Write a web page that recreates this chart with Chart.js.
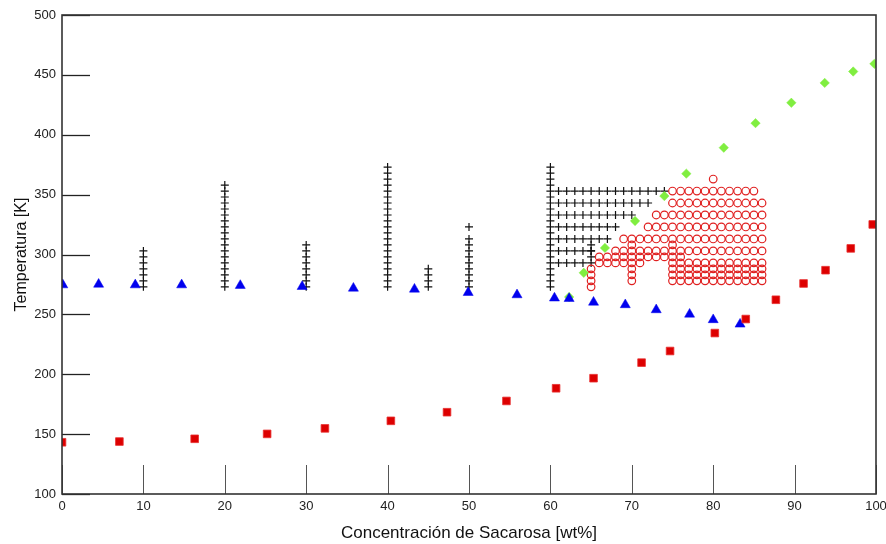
<!DOCTYPE html>
<html><head><meta charset="utf-8">
<script src="https://cdn.jsdelivr.net/npm/chart.js@4.4.0/dist/chart.umd.min.js"></script>
<style>html,body{margin:0;padding:0;background:#fff;overflow:hidden}#wrap{width:886px;height:544px}</style>
</head><body><div id="wrap"><canvas id="c" width="886" height="544"></canvas></div>
<script>
const xTicks = [0,10,20,30,40,50,60,70,80,90,100];
const yTicks = [100,150,200,250,300,350,400,450,500];

// Ice melting (liquidus) – blue triangles
const iceConc = [0.1,4.5,9.0,14.7,21.9,29.5,35.8,43.3,49.9,55.9,60.5,62.3,65.3,69.2,73.0,77.1,80.0,83.3];
const iceTemp = [274.6,275.1,274.6,274.6,274.1,273.2,271.8,271.0,268.2,266.3,263.6,263.2,260.1,258.0,253.8,250.1,245.5,241.8];

// Glass transition – red squares
const glassConc = [0,7.05,16.3,25.2,32.3,40.4,47.3,54.6,60.7,65.3,71.2,74.7,80.2,84.0,87.7,91.1,93.8,96.9,99.6];
const glassTemp = [143.2,143.8,146.1,150.2,154.8,161.1,168.3,177.7,188.3,196.7,209.7,219.4,234.4,246.1,262.2,275.8,286.9,305.1,325.1];

// Solubility – green diamonds
const solConc = [62.3,64.1,66.7,70.4,74.0,76.7,81.3,85.2,89.6,93.7,97.2,99.8];
const solTemp = [264.5,284.7,305.5,328.0,348.8,367.5,389.2,409.7,426.7,443.3,452.8,459.2];

// Measured states – black pluses (vertical series)
const plusColConc = [10,20,30,40,45,50,60,65];
const plusColTemps = [
  [273,278,283,288,293,298,303],
  [273,278,283,288,293,298,303,308,313,318,323,328,333,338,343,348,353,358],
  [273,278,283,288,293,298,303,308],
  [273,278,283,288,293,298,303,308,313,318,323,328,333,338,343,348,353,358,363,368,373],
  [273,278,283,288],
  [273,278,283,288,293,298,303,308,313,323],
  [273,278,283,288,293,298,303,308,313,318,323,328,333,338,343,348,353,358,363,368,373],
  [293,298,303,308]
];
// black pluses (horizontal series)
const plusRowTemp = [353,343,333,323,313,303,293];
const plusRowConc = [
  [61,62,63,64,65,66,67,68,69,70,71,72,73,74],
  [61,62,63,64,65,66,67,68,69,70,71,72],
  [61,62,63,64,65,66,67,68,69,70],
  [61,62,63,64,65,66,67,68],
  [61,62,63,64,65,66,67],
  [61,62,63,64,65],
  [61,62,63,64]
];

// Measured states – red open circles (rows)
const circRowTemp = [363,353,343,333,323,313,308,303,298,293,288,283,278,273];
const circRowConc = [
  [80],
  [75,76,77,78,79,80,81,82,83,84,85],
  [75,76,77,78,79,80,81,82,83,84,85,86],
  [73,74,75,76,77,78,79,80,81,82,83,84,85,86],
  [72,73,74,75,76,77,78,79,80,81,82,83,84,85,86],
  [69,70,71,72,73,74,75,76,77,78,79,80,81,82,83,84,85,86],
  [70,75],
  [68,69,70,71,72,73,74,75,76,77,78,79,80,81,82,83,84,85,86],
  [66,67,68,69,70,71,72,73,74,75,76],
  [66,67,68,69,70,71,75,76,77,78,79,80,81,82,83,84,85,86],
  [65,70,75,76,77,78,79,80,81,82,83,84,85,86],
  [65,70,75,76,77,78,79,80,81,82,83,84,85,86],
  [65,70,75,76,77,78,79,80,81,82,83,84,85,86],
  [65]
];

const pts = (xs, ys) => xs.map((x,i)=>({x, y: ys[i]}));
const plusPts = [];
plusColConc.forEach((c,i)=>plusColTemps[i].forEach(t=>plusPts.push({x:c,y:t})));
plusRowTemp.forEach((t,i)=>plusRowConc[i].forEach(c=>plusPts.push({x:c,y:t})));
const circPts = [];
circRowTemp.forEach((t,i)=>circRowConc[i].forEach(c=>circPts.push({x:c,y:t})));

const FONT = "'Liberation Sans', Arial, Helvetica, sans-serif";

const frame = {
  id:'frame',
  afterDatasetsDraw(chart){
    const {ctx, chartArea:a, scales:{x,y}} = chart;
    ctx.save();
    ctx.strokeStyle = '#222'; ctx.lineWidth = 1.3;
    yTicks.forEach(v=>{ const py = Math.round(y.getPixelForValue(v))+0.5; ctx.beginPath(); ctx.moveTo(a.left,py); ctx.lineTo(a.left+28,py); ctx.stroke(); });
    ctx.strokeStyle = '#555'; ctx.lineWidth = 1;
    xTicks.forEach(v=>{ const px = Math.round(x.getPixelForValue(v))+0.5; ctx.beginPath(); ctx.moveTo(px,a.bottom); ctx.lineTo(px,a.bottom-29); ctx.stroke(); });
    ctx.strokeStyle = '#333'; ctx.lineWidth = 1.6;
    ctx.strokeRect(a.left, a.top, a.right-a.left, a.bottom-a.top);
    ctx.restore();
  }
};

new Chart(document.getElementById('c'), {
  type:'scatter',
  data:{ datasets:[
    {label:'Tg', data: pts(glassConc, glassTemp), pointStyle:'rect', pointRadius:5.4, backgroundColor:'#dd0000', borderColor:'#e83030', borderWidth:0.8, clip:0},
    {label:'Tm', data: pts(iceConc, iceTemp), pointStyle:'triangle', pointRadius:5.8, backgroundColor:'#0000ee', borderColor:'#0000ee', borderWidth:0.5, clip:0},
    {label:'Ts', data: pts(solConc, solTemp), pointStyle:'rectRot', pointRadius:4.7, backgroundColor:'#80ee40', borderColor:'#80ee40', borderWidth:0.5, clip:0},
    {label:'circ', data: circPts, pointStyle:'circle', pointRadius:3.8, backgroundColor:'rgba(0,0,0,0)', borderColor:'#e02020', borderWidth:1.2, clip:0},
    {label:'plus', data: plusPts, pointStyle:'cross', pointRadius:4, borderColor:'#111', borderWidth:1.2, clip:0}
  ]},
  options:{
    responsive:false, animation:false, devicePixelRatio:1,
    layout:{padding:{top:15, right:10, left:0, bottom:0}},
    plugins:{legend:{display:false}, tooltip:{enabled:false}},
    elements:{point:{hoverRadius:0}},
    scales:{
      x:{type:'linear', min:0, max:100,
        afterBuildTicks: s=>{ s.ticks = xTicks.map(v=>({value:v})); },
        afterFit: s=>{ s.height = 50; s.paddingLeft = 0; s.paddingRight = 0; },
        grid:{display:false, drawTicks:false}, border:{display:false},
        ticks:{padding:5, color:'#222', font:{family:FONT, size:13}, maxRotation:0, autoSkip:false},
        title:{display:true, text:'Concentración de Sacarosa [wt%]', color:'#111', font:{family:FONT, size:17}, padding:{top:8,bottom:0}}
      },
      y:{type:'linear', min:100, max:500,
        afterBuildTicks: s=>{ s.ticks = yTicks.map(v=>({value:v})); },
        afterFit: s=>{ s.width = 62; s.paddingTop = 0; s.paddingBottom = 0; },
        grid:{display:false, drawTicks:false}, border:{display:false},
        ticks:{padding:6, color:'#222', font:{family:FONT, size:13}, autoSkip:false},
        title:{display:true, text:'Temperatura [K]', color:'#111', font:{family:FONT, size:16}, padding:{top:12,bottom:0}}
      }
    }
  },
  plugins:[frame]
});
</script></body></html>
